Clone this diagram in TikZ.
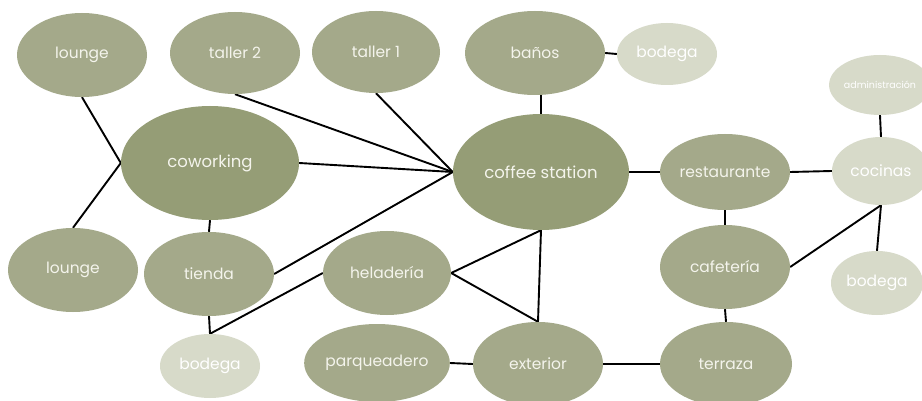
\documentclass[tikz,border=0pt]{standalone}
\usepackage{fontspec}
\setmainfont{Poppins}
\usetikzlibrary{shapes.geometric,backgrounds}
\definecolor{olive}{HTML}{A4A98A}
\definecolor{darkolive}{HTML}{959D76}
\definecolor{lightolive}{HTML}{D7DAC9}
\definecolor{txt}{HTML}{F4F4EC}
\tikzset{
  room/.style={ellipse, fill=olive, inner sep=0pt, text=txt, font=\fontsize{15.5}{17}\selectfont},
  bigroom/.style={room, fill=darkolive, font=\fontsize{16.5}{18}\selectfont},
  store/.style={room, fill=lightolive, text=white},
  link/.style={line width=1.9pt, black}
}
\begin{document}
\begin{tikzpicture}[x=1pt,y=-1pt]
\useasboundingbox (0,0) rectangle (922,401);
\node[room, minimum width=130pt, minimum height=84pt] (lounge1) at (82,55) {lounge};
\node[room, minimum width=130pt, minimum height=82pt] (taller2) at (235,53) {taller 2};
\node[room, minimum width=128pt, minimum height=82pt] (taller1) at (376,52) {taller 1};
\node[bigroom, minimum width=178pt, minimum height=114pt] (cowork) at (210,163) {coworking};
\node[bigroom, minimum width=176pt, minimum height=116pt] (coffee) at (541,172) {coffee station};
\node[room, minimum width=140pt, minimum height=84pt] (banos) at (535,53) {baños};
\node[store, minimum width=100pt, minimum height=62pt] (bodega1) at (667,54) {bodega};
\node[store, minimum width=94pt, minimum height=60pt, font=\fontsize{9.5}{11}\selectfont] (admin) at (880,85) {administración};
\node[store, minimum width=98pt, minimum height=68pt] (cocinas) at (881,171) {cocinas};
\node[room, minimum width=130pt, minimum height=76pt] (rest) at (725,172) {restaurante};
\node[room, minimum width=130pt, minimum height=84pt] (cafe) at (725,267) {cafetería};
\node[store, minimum width=92pt, minimum height=64pt] (bodega2) at (877,283) {bodega};
\node[room, minimum width=132pt, minimum height=84pt] (terraza) at (726,364) {terraza};
\node[room, minimum width=130pt, minimum height=84pt] (exterior) at (538,364) {exterior};
\node[room, minimum width=130pt, minimum height=78pt] (parq) at (377,363) {parqueadero};
\node[room, minimum width=128pt, minimum height=84pt] (helad) at (387,273) {heladería};
\node[room, minimum width=130pt, minimum height=84pt] (tienda) at (209,274) {tienda};
\node[room, minimum width=130pt, minimum height=84pt] (lounge2) at (73,270) {lounge};
\node[store, minimum width=100pt, minimum height=64pt] (bodega3) at (210,366) {bodega};
\begin{scope}[on background layer]
\fill[white] (0,0) rectangle (922,401);
\draw[link] (lounge1.south) -- (cowork.west) -- (lounge2.north);
\draw[link] (taller2.south) -- (coffee.west);
\draw[link] (taller1.south) -- (coffee.west);
\draw[link] (cowork.east) -- (coffee.west);
\draw[link] (tienda.east) -- (coffee.west);
\draw[link] (cowork.south) -- (tienda.north);
\draw[link] (tienda.south) -- (bodega3.north);
\draw[link] (helad.west) -- (bodega3.north);
\draw[link] (helad.east) -- (coffee.south) -- (exterior.north) -- cycle;
\draw[link] (parq.east) -- (exterior.west);
\draw[link] (exterior.east) -- (terraza.west);
\draw[link] (coffee.north |- banos.south) -- (coffee.north);
\draw[link] (banos.east) -- (bodega1.west);
\draw[link] (coffee.east) -- (rest.west);
\draw[link] (rest.east) -- (cocinas.west);
\draw[link] (admin.south) -- (cocinas.north);
\draw[link] (cocinas.south) -- (bodega2.north);
\draw[link] (cafe.east) -- (cocinas.south);
\draw[link] (rest.south) -- (cafe.north);
\draw[link] (cafe.south) -- (terraza.north);
\end{scope}
\end{tikzpicture}
\end{document}
